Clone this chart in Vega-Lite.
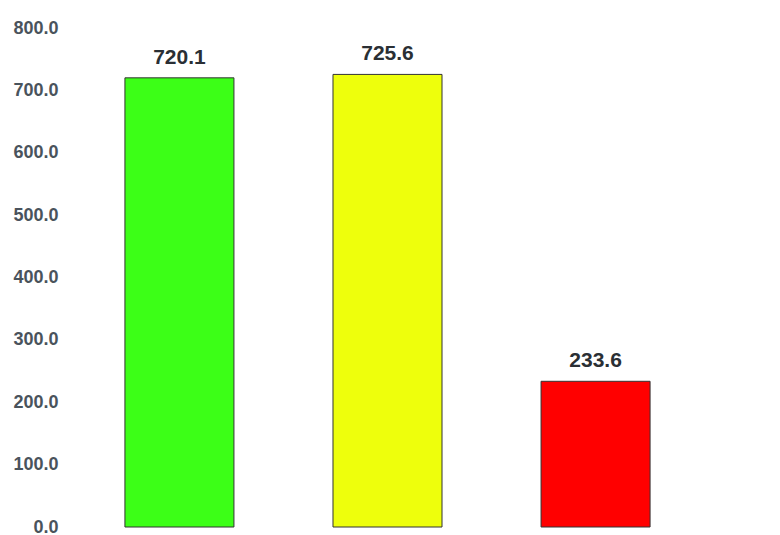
{
  "$schema": "https://vega.github.io/schema/vega-lite/v6.json",
  "width": 635,
  "height": 499,
  "autosize": {"type": "none"},
  "padding": {"left": 70, "top": 28, "right": 75, "bottom": 8},
  "background": "white",
  "config": {"view": {"stroke": null}},
  "data": {"values": [
    {"cat": "A", "value": 720.1, "color": "#3cff17"},
    {"cat": "B", "value": 725.6, "color": "#eeff0c"},
    {"cat": "C", "value": 233.6, "color": "#ff0000"}
  ]},
  "encoding": {
    "x": {"field": "cat", "type": "nominal", "sort": null,
      "scale": {"paddingInner": 0.476, "paddingOuter": 0.264},
      "axis": null},
    "y": {"field": "value", "type": "quantitative",
      "scale": {"domain": [0, 800], "nice": false},
      "axis": {"values": [0,100,200,300,400,500,600,700,800], "format": ".1f", "title": null,
        "domain": false, "ticks": false, "grid": false, "labelPadding": 12,
        "labelFont": "Liberation Sans", "labelFontSize": 18, "labelColor": "#4a535c", "labelFontWeight": "bold"}}
  },
  "layer": [
    {"mark": {"type": "bar", "stroke": "#333333", "strokeWidth": 1},
     "encoding": {"color": {"field": "color", "type": "nominal", "scale": null}}},
    {"mark": {"type": "text", "dy": -20, "font": "Liberation Sans", "fontSize": 21, "fontWeight": "bold", "color": "#2a2f34"},
     "encoding": {"text": {"field": "value", "type": "quantitative", "format": ".1f"}}}
  ]
}
